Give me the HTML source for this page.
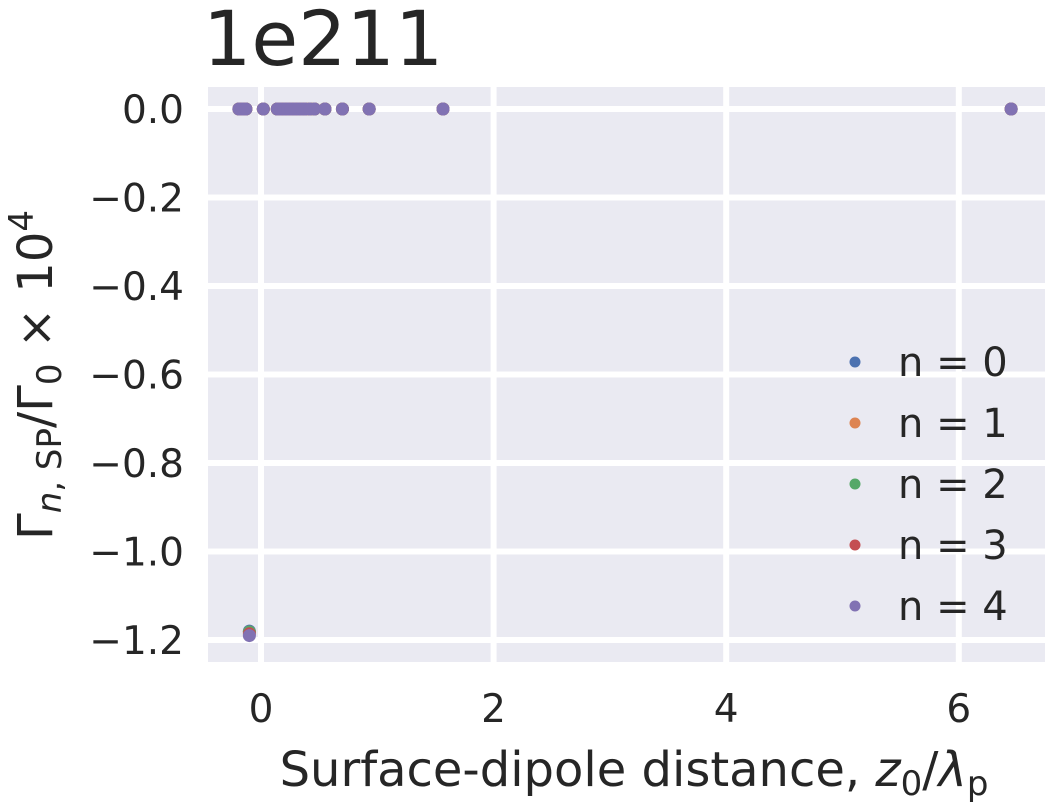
<!DOCTYPE html>
<html><head><meta charset="utf-8"><style>
body{margin:0;background:#fff;}
svg text{font-family:"DejaVu Sans","Liberation Sans",sans-serif;fill:#262626;}
</style></head><body>
<svg id="chart" width="1053" height="804" xmlns="http://www.w3.org/2000/svg">
<rect x="208" y="87" width="837" height="575" fill="#eaeaf2"/>
<g id="grid"></g>
<g id="ticks"></g>
<g id="points"></g>
<text x="203" y="65" font-size="76">1e211</text>
<text x="634" y="786" font-size="48" text-anchor="middle">Surface-dipole distance, <tspan font-style="italic">z</tspan><tspan font-size="34" dy="9">0</tspan><tspan dy="-9">/</tspan><tspan font-style="italic">λ</tspan><tspan font-size="34" dy="9">p</tspan></text>
<text transform="translate(52,375) rotate(-90)" font-size="48" text-anchor="middle">Γ<tspan font-size="34" dy="9" font-style="italic">n</tspan><tspan font-size="34">, SP</tspan><tspan dy="-9">/Γ</tspan><tspan font-size="34" dy="9">0</tspan><tspan dy="-9"> × 10</tspan><tspan font-size="34" dy="-19">4</tspan></text>
<g id="legend"></g>
</svg>
<script>
const xTicks=[0,2,4,6];
const yTicks=[0,-0.2,-0.4,-0.6,-0.8,-1.0,-1.2];
const yTickLabels=["0.0","−0.2","−0.4","−0.6","−0.8","−1.0","−1.2"];
const seriesNames=["n = 0","n = 1","n = 2","n = 3","n = 4"];
const colors=["#4c72b0","#dd8452","#55a868","#c44e52","#8172b3"];
const xVals=[-0.19,-0.16,-0.13,-0.10,0.02,0.14,0.17,0.2,0.23,0.26,0.29,0.32,0.35,0.38,0.42,0.46,0.55,0.70,0.93,1.565,6.45];
const yVals0=[0,0,0,-1.18,0,0,0,0,0,0,0,0,0,0,0,0,0,0,0,0,0];
const yVals1=[0,0,0,-1.182,0,0,0,0,0,0,0,0,0,0,0,0,0,0,0,0,0];
const yVals2=[0,0,0,-1.182,0,0,0,0,0,0,0,0,0,0,0,0,0,0,0,0,0];
const yVals3=[0,0,0,-1.186,0,0,0,0,0,0,0,0,0,0,0,0,0,0,0,0,0];
const yVals4=[0,0,0,-1.19,0,0,0,0,0,0,0,0,0,0,0,0,0,0,0,0,0];
const allY=[yVals0,yVals1,yVals2,yVals3,yVals4];
const NS="http://www.w3.org/2000/svg";
const X=v=>261+v*116.3;
const Y=v=>109-v*(531/1.2);
function mk(t,a,p){const e=document.createElementNS(NS,t);for(const k in a)e.setAttribute(k,a[k]);p.appendChild(e);return e;}
const grid=document.getElementById('grid'),ticks=document.getElementById('ticks');
xTicks.forEach(v=>{
 const l=mk('line',{x1:X(v),x2:X(v),y1:87,y2:662,stroke:'#fff','stroke-width':6},grid);
 
 
 const t=mk('text',{x:X(v),y:722,'font-size':39,'text-anchor':'middle'},ticks);t.textContent=v;
 
 
});
yTicks.forEach((v,i)=>{
 const l=mk('line',{x1:208,x2:1045,y1:Y(v),y2:Y(v),stroke:'#fff','stroke-width':6},grid);
 
 
 const t=mk('text',{x:184,y:Y(v)+14,'font-size':39,'text-anchor':'end'},ticks);t.textContent=yTickLabels[i];
 
 
});
const pts=document.getElementById('points');
allY.forEach((ys,s)=>{
 ys.forEach((y,i)=>{
  const c=mk('circle',{cx:X(xVals[i]),cy:Y(y),r:6.5,fill:colors[s]},pts);
  
  
 });
});
const lg=document.getElementById('legend');
seriesNames.forEach((n,i)=>{
 const y=362+i*61;
 const c=mk('circle',{cx:855,cy:y,r:5.5,fill:colors[i]},lg);
 
 
 const t=mk('text',{x:898,y:y+14,'font-size':40},lg);t.textContent=n;
 
 
});
</script>
</body></html>
